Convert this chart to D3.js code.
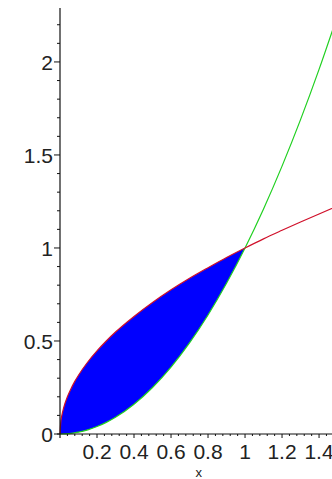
<!DOCTYPE html>
<html>
<head>
<meta charset="utf-8">
<script src="https://cdn.jsdelivr.net/npm/d3@7"></script>
<style>
  html, body { margin: 0; padding: 0; background: #fff; }
  svg { display: block; }
  text { font-family: "Liberation Sans", Arial, sans-serif; fill: #222; }
</style>
</head>
<body>
<svg id="chart" width="332" height="479"></svg>
<script>
// Sample points along the two curves
const xValues = [0, 0.005, 0.01, 0.02, 0.04, 0.06, 0.08, 0.1, 0.15, 0.2, 0.25, 0.3, 0.4, 0.5, 0.6, 0.7, 0.8, 0.9, 1.0, 1.1, 1.2, 1.3, 1.4, 1.5];
const rootValues = [0, 0.071, 0.1, 0.141, 0.2, 0.245, 0.283, 0.316, 0.387, 0.447, 0.5, 0.548, 0.632, 0.707, 0.775, 0.837, 0.894, 0.949, 1.0, 1.049, 1.095, 1.14, 1.183, 1.225];
const squareValues = [0, 0.0000, 0.0001, 0.0004, 0.0016, 0.0036, 0.0064, 0.01, 0.0225, 0.04, 0.0625, 0.09, 0.16, 0.25, 0.36, 0.49, 0.64, 0.81, 1.0, 1.21, 1.44, 1.69, 1.96, 2.25];

// Axis ticks and labels
const xTickValues = [0.2, 0.4, 0.6, 0.8, 1, 1.2, 1.4];
const xTickLabels = ["0.2", "0.4", "0.6", "0.8", "1", "1.2", "1.4"];
const yTickValues = [0, 0.5, 1, 1.5, 2];
const yTickLabels = ["0", "0.5", "1", "1.5", "2"];
const xAxisTitle = "x";

const svg = d3.select("#chart");

const x = d3.scaleLinear().domain([0, 1.47]).range([60, 332]);
const y = d3.scaleLinear().domain([0, 2.29]).range([434, 8]);

const pts = xValues.map((v, i) => ({ x: v, r: rootValues[i], s: squareValues[i] }));
const region = pts.filter(d => d.x <= 1.0);

// Shaded region between the curves on [0, 1]
svg.append("path")
  .datum(region)
  .attr("fill", "#0000ff")
  .attr("d", d3.area()
    .x(d => x(d.x))
    .y0(d => y(d.s))
    .y1(d => y(d.r))
    .curve(d3.curveMonotoneX));

// Curves
svg.append("path")
  .datum(pts)
  .attr("fill", "none")
  .attr("stroke", "#20d020")
  .attr("stroke-width", 1.2)
  .attr("d", d3.line().x(d => x(d.x)).y(d => y(d.s)).curve(d3.curveMonotoneX));

svg.append("path")
  .datum(pts)
  .attr("fill", "none")
  .attr("stroke", "#d0102a")
  .attr("stroke-width", 1.2)
  .attr("d", d3.line().x(d => x(d.x)).y(d => y(d.r)).curve(d3.curveMonotoneX));

// Axes
const axisColor = "#111";

// x axis: minor ticks then major ticks
const xMinor = d3.range(0.04, 1.48, 0.04).filter(v => xTickValues.every(t => Math.abs(t - v) > 1e-6));
const gx = svg.append("g").attr("transform", `translate(0,${y(0)})`);
gx.append("line")
  .attr("x1", x(0) - 3).attr("x2", 332)
  .attr("stroke", axisColor).attr("stroke-width", 1.2);
gx.selectAll(".xminor").data(xMinor).join("line")
  .attr("x1", d => x(d)).attr("x2", d => x(d))
  .attr("y1", 0).attr("y2", 2)
  .attr("stroke", axisColor);
gx.selectAll(".xmajor").data(xTickValues).join("line")
  .attr("x1", d => x(d)).attr("x2", d => x(d))
  .attr("y1", 0).attr("y2", 4)
  .attr("stroke", axisColor);
gx.selectAll(".xlabel").data(xTickValues).join("text")
  .attr("x", d => x(d))
  .attr("y", 25)
  .attr("text-anchor", "middle")
  .attr("font-size", 21)
  .text((d, i) => xTickLabels[i]);

svg.append("text")
  .attr("x", x(0.75))
  .attr("y", 477)
  .attr("text-anchor", "middle")
  .attr("font-size", 13)
  .text(xAxisTitle);

// y axis
const yMinor = d3.range(0.1, 2.29, 0.1).filter(v => yTickValues.every(t => Math.abs(t - v) > 1e-6));
const gy = svg.append("g").attr("transform", `translate(${x(0)},0)`);
gy.append("line")
  .attr("y1", y(0) + 4).attr("y2", 8)
  .attr("stroke", axisColor).attr("stroke-width", 1.2);
gy.selectAll(".yminor").data(yMinor).join("line")
  .attr("y1", d => y(d)).attr("y2", d => y(d))
  .attr("x1", 0).attr("x2", -3)
  .attr("stroke", axisColor);
gy.selectAll(".ymajor").data(yTickValues).join("line")
  .attr("y1", d => y(d)).attr("y2", d => y(d))
  .attr("x1", 0).attr("x2", -6)
  .attr("stroke", axisColor);
gy.selectAll(".ylabel").data(yTickValues).join("text")
  .attr("x", -7)
  .attr("y", d => y(d))
  .attr("dy", "0.36em")
  .attr("text-anchor", "end")
  .attr("font-size", 21)
  .text((d, i) => yTickLabels[i]);
</script>
</body>
</html>
